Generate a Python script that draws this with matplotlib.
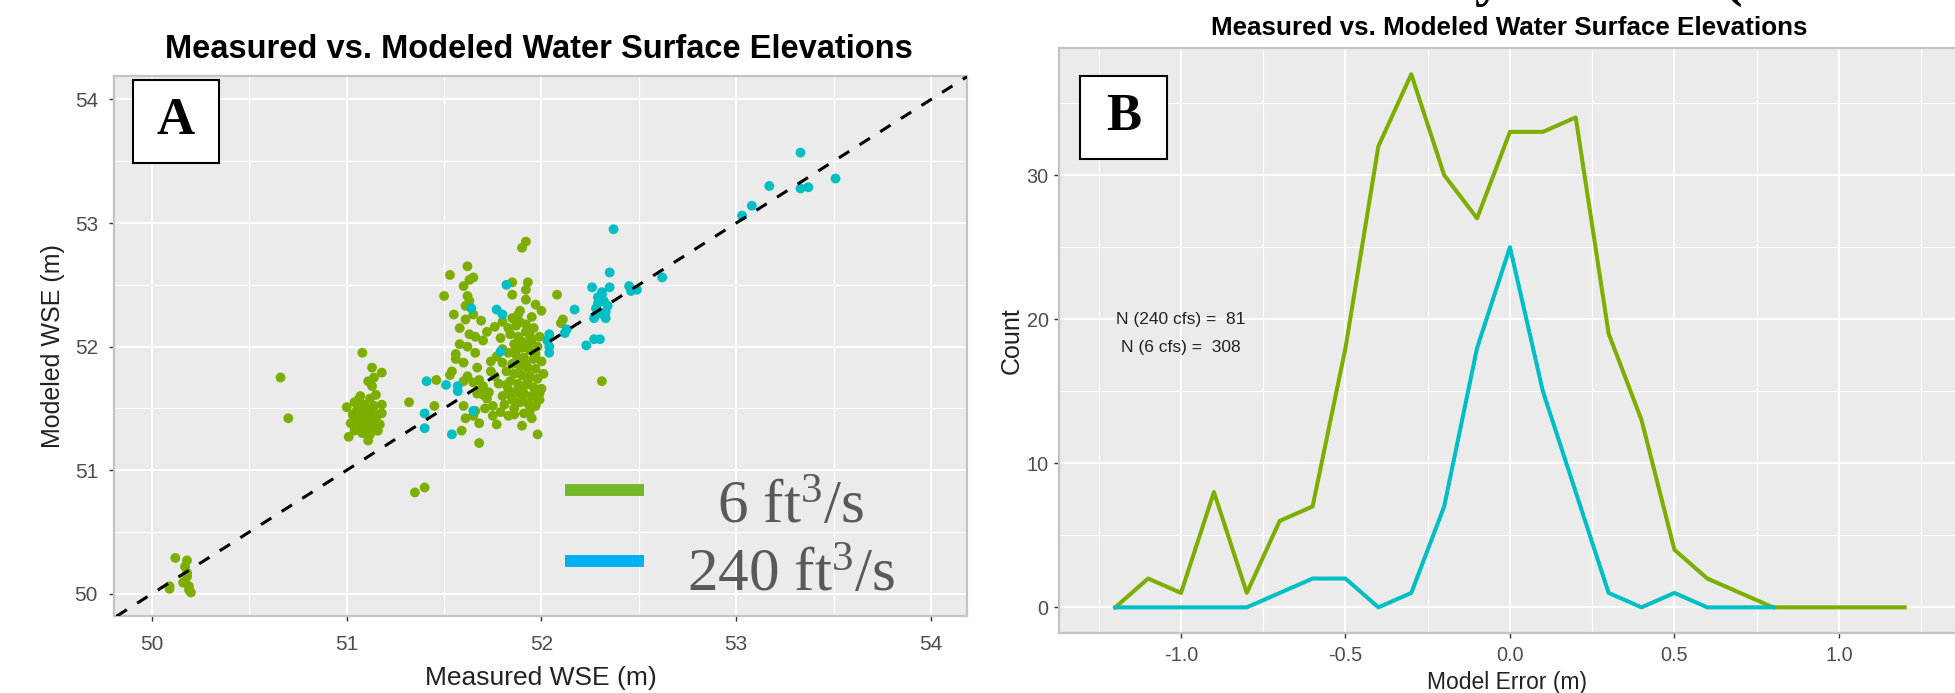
import matplotlib
matplotlib.use("Agg")
import matplotlib.pyplot as plt
from matplotlib.patches import Rectangle
from matplotlib.lines import Line2D
from matplotlib.ticker import MultipleLocator, FormatStrFormatter

# ---- panel A data: (measured, modeled) WSE in m ----
pts_6cfs = [
    (50.12, 50.29), (50.18, 50.27), (50.17, 50.22), (50.09, 50.04), (50.09, 50.06),
    (50.17, 50.10), (50.18, 50.14), (50.19, 50.06), (50.20, 50.01), (50.18, 50.17),
    (50.16, 50.09), (50.19, 50.03),
    (50.66, 51.75), (50.70, 51.42), (51.35, 50.82), (51.40, 50.86),
    (51.08, 51.95), (51.13, 51.83), (51.18, 51.79), (51.14, 51.75), (51.11, 51.72),
    (51.13, 51.68), (51.15, 51.61), (51.07, 51.60), (51.00, 51.51), (51.18, 51.53),
    (51.32, 51.55), (51.01, 51.27), (51.11, 51.24), (51.04, 51.55), (51.06, 51.50),
    (51.08, 51.46), (51.10, 51.42), (51.12, 51.48), (51.14, 51.52), (51.16, 51.45),
    (51.05, 51.40), (51.03, 51.45), (51.07, 51.36), (51.09, 51.33), (51.11, 51.38),
    (51.13, 51.35), (51.15, 51.40), (51.17, 51.37), (51.06, 51.57), (51.09, 51.53),
    (51.12, 51.58), (51.02, 51.38), (51.04, 51.32), (51.08, 51.30), (51.12, 51.29),
    (51.14, 51.44), (51.10, 51.50), (51.07, 51.43), (51.16, 51.32), (51.18, 51.46),
    (51.05, 51.48), (51.11, 51.46), (51.13, 51.41), (51.09, 51.39),
    (51.92, 52.85), (51.90, 52.80), (51.62, 52.65), (51.53, 52.58), (51.65, 52.56),
    (51.63, 52.54), (51.60, 52.49), (51.50, 52.41), (51.62, 52.41), (51.63, 52.37),
    (51.61, 52.33), (51.55, 52.26), (51.65, 52.26), (51.69, 52.21), (51.61, 52.22),
    (51.85, 52.52), (51.85, 52.42), (51.93, 52.52), (51.92, 52.46), (51.92, 52.38),
    (51.97, 52.34), (52.00, 52.29), (51.89, 52.29), (52.08, 52.42), (52.11, 52.22),
    (52.10, 52.19),
    (51.46, 51.73), (51.45, 51.52), (51.59, 51.32), (51.68, 51.22), (51.61, 51.42),
    (51.66, 51.48), (51.68, 51.38), (51.65, 51.44), (51.60, 51.52), (51.75, 51.44),
    (51.77, 51.37), (51.83, 51.44), (51.90, 51.36), (51.98, 51.29), (51.91, 51.46),
    (51.97, 51.53), (51.62, 52.00), (51.56, 51.94), (51.60, 51.87), (51.54, 51.80),
    (51.53, 51.77), (51.67, 51.83), (51.62, 51.76), (51.60, 51.72), (51.65, 51.71),
    (51.68, 51.73), (51.70, 51.68), (51.68, 51.64), (51.73, 51.63), (51.70, 51.61),
    (51.67, 51.62), (51.79, 52.07), (51.74, 51.88), (51.80, 51.87), (51.83, 52.15),
    (51.87, 52.17), (52.31, 51.72),
    (51.84, 52.10), (51.88, 52.08), (51.92, 52.12), (51.95, 52.05), (51.86, 52.02),
    (51.90, 51.99), (51.94, 51.97), (51.98, 52.00), (51.83, 51.95), (51.87, 51.93),
    (51.91, 51.91), (51.96, 51.90), (51.85, 51.86), (51.89, 51.84), (51.93, 51.83),
    (51.97, 51.82), (51.82, 51.80), (51.86, 51.78), (51.90, 51.77), (51.94, 51.76),
    (51.98, 51.74), (51.84, 51.72), (51.88, 51.70), (51.92, 51.69), (51.96, 51.67),
    (51.83, 51.65), (51.87, 51.63), (51.91, 51.62), (51.95, 51.60), (51.99, 51.62),
    (51.85, 51.57), (51.89, 51.55), (51.93, 51.54), (51.97, 51.52), (51.86, 51.50),
    (51.80, 51.60), (51.78, 51.70), (51.76, 51.76), (51.81, 51.53), (51.92, 52.18),
    (51.96, 52.15), (51.89, 52.20), (51.99, 52.08), (51.93, 52.02), (51.97, 51.94),
    (51.80, 51.98), (51.77, 51.92), (51.74, 51.80), (51.72, 51.58), (51.75, 51.52),
    (51.71, 51.50), (51.79, 51.47), (51.86, 51.45), (51.94, 51.48), (51.99, 51.57),
    (52.00, 51.66), (52.01, 51.78), (52.00, 51.88), (51.95, 51.42),
    (51.72, 52.12), (51.76, 52.16), (51.80, 52.20), (51.85, 52.23), (51.95, 52.24),
    (51.88, 52.26), (51.70, 52.05), (51.66, 52.08), (51.58, 52.15), (51.63, 52.10),
    (51.58, 52.02), (51.56, 51.90), (51.66, 51.95),
    (51.88, 51.88), (51.92, 51.86), (51.86, 51.96), (51.90, 52.04), (51.94, 52.09),
    (51.88, 51.66), (51.84, 51.61), (51.93, 51.72), (51.90, 51.58), (51.82, 51.69),
]

pts_240cfs = [
    (51.40, 51.46), (51.40, 51.34), (51.41, 51.72), (51.51, 51.69), (51.57, 51.68),
    (51.57, 51.64), (51.54, 51.29), (51.65, 51.48), (51.64, 52.31), (51.77, 52.30),
    (51.80, 52.26), (51.82, 52.50), (51.79, 51.96), (52.04, 52.10), (52.04, 51.95),
    (52.04, 52.00), (52.03, 52.05), (52.13, 52.14), (52.17, 52.30), (52.12, 52.11),
    (52.37, 52.95), (52.35, 52.60), (52.26, 52.48), (52.35, 52.48), (52.45, 52.49),
    (52.46, 52.45), (52.49, 52.46), (52.31, 52.42), (52.32, 52.37), (52.28, 52.31),
    (52.27, 52.23), (52.33, 52.23), (52.30, 52.27), (52.34, 52.33), (52.29, 52.40),
    (52.31, 52.44), (52.29, 52.35), (52.33, 52.28), (52.62, 52.56), (52.23, 52.01),
    (52.27, 52.06), (52.30, 52.06),
    (53.03, 53.06), (53.08, 53.14), (53.17, 53.30), (53.33, 53.57), (53.33, 53.28),
    (53.37, 53.29), (53.51, 53.36),
]

# ---- panel B data: model error histogram (frequency polygon) ----
err_bins = [-1.2, -1.1, -1.0, -0.9, -0.8, -0.7, -0.6, -0.5, -0.4, -0.3, -0.2, -0.1,
            0.0, 0.1, 0.2, 0.3, 0.4, 0.5, 0.6, 0.7, 0.8, 0.9, 1.0, 1.1, 1.2]
count_6cfs = [0, 2, 1, 8, 1, 6, 7, 18, 32, 37, 30, 27,
              33, 33, 34, 19, 13, 4, 2, 1, 0, 0, 0, 0, 0]
count_240cfs = [0, 0, 0, 0, 0, 1, 2, 2, 0, 1, 7, 18,
                25, 15, 8, 1, 0, 1, 0, 0, 0]

legend_labels = [r"6 ft$^{3}$/s", r"240 ft$^{3}$/s"]
n_labels = ["N (240 cfs) =  81", "N (6 cfs) =  308"]
title = "Measured vs. Modeled Water Surface Elevations"

GREEN = "#7CAE00"
CYAN = "#00BFC4"
W, H = 1955, 693

plt.rcParams["font.family"] = ["Liberation Sans", "DejaVu Sans"]
plt.rcParams["mathtext.fontset"] = "custom"
plt.rcParams["mathtext.rm"] = "Liberation Serif"
plt.rcParams["mathtext.it"] = "Liberation Serif"


def style_gg(ax, labelsize, xpad, ypad):
    ax.set_facecolor("#EBEBEB")
    ax.grid(True, which="major", color="white", lw=1.5)
    ax.grid(True, which="minor", color="white", lw=0.8)
    ax.set_axisbelow(True)
    for s in ax.spines.values():
        s.set_color("#C4C4C4")
        s.set_linewidth(1.6)
    ax.tick_params(which="major", length=3.5, width=1, color="#333333",
                   labelcolor="#4D4D4D", labelsize=labelsize)
    ax.tick_params(axis="x", pad=xpad)
    ax.tick_params(axis="y", pad=ypad)
    ax.tick_params(which="minor", length=0)


fig = plt.figure(figsize=(W / 100, H / 100), dpi=100)

# ---------------- panel A ----------------
ax1 = fig.add_axes([114 / W, 1 - 616 / H, (967 - 114) / W, (616 - 76) / H])
style_gg(ax1, 15, 10, 8)
ax1.scatter([p[0] for p in pts_6cfs], [p[1] for p in pts_6cfs],
            s=50, color=GREEN, edgecolors="none", zorder=3)
ax1.scatter([p[0] for p in pts_240cfs], [p[1] for p in pts_240cfs],
            s=50, color=CYAN, edgecolors="none", zorder=3)
ax1.plot([49.5, 54.5], [49.5, 54.5], color="black", lw=2.2,
         linestyle=(0, (4, 4)), zorder=4)
ax1.set_xlim(49.805, 54.185)
ax1.set_ylim(49.82, 54.19)
ax1.xaxis.set_major_locator(MultipleLocator(1))
ax1.yaxis.set_major_locator(MultipleLocator(1))
ax1.xaxis.set_minor_locator(MultipleLocator(0.5))
ax1.yaxis.set_minor_locator(MultipleLocator(0.5))
ax1.set_xlabel("Measured WSE (m)", fontsize=19, color="#222222", va="center")
ax1.set_ylabel("Modeled WSE (m)", fontsize=18, color="#222222", va="center")
ax1.xaxis.set_label_coords(0.5, -0.115)
ax1.yaxis.set_label_coords(-0.072, 0.5)
fig.text(539 / W, 1 - 50 / H, title, fontsize=23.5, fontweight="bold",
         ha="center", va="center")

# legend drawn as in the figure (thick bars + large serif labels)
for lab, col, yc, yb in [(legend_labels[0], "#74B72A", 490, 523),
                         (legend_labels[1], "#00B0F0", 561, 591)]:
    fig.add_artist(Line2D([565 / W, 644 / W], [1 - yc / H, 1 - yc / H],
                          color=col, lw=8.6, solid_capstyle="butt"))
    fig.text(791 / W, 1 - yb / H, lab, fontsize=44, color="#595959",
             family="Liberation Serif", ha="center", va="baseline")

# ---------------- panel B ----------------
ax2 = fig.add_axes([1059 / W, 1 - 633 / H, (W - 1059) / W, (633 - 48) / H])
style_gg(ax2, 14.3, 6, 4)
ax2.spines["right"].set_visible(False)
ax2.plot(err_bins, count_6cfs, color=GREEN, lw=2.9, zorder=3)
ax2.plot(err_bins[:len(count_240cfs)], count_240cfs, color=CYAN, lw=2.9, zorder=4)
ax2.set_xlim(-1.371, 1.353)
ax2.set_ylim(-1.78, 38.82)
ax2.xaxis.set_major_locator(MultipleLocator(0.5))
ax2.xaxis.set_minor_locator(MultipleLocator(0.25))
ax2.yaxis.set_major_locator(MultipleLocator(10))
ax2.yaxis.set_minor_locator(MultipleLocator(5))
ax2.xaxis.set_major_formatter(FormatStrFormatter("%.1f"))
ax2.set_xlabel("Model Error (m)", fontsize=16.5, color="#222222", va="center")
ax2.set_ylabel("Count", fontsize=18, color="#222222", va="center")
ax2.xaxis.set_label_coords(0.5, -0.084)
ax2.yaxis.set_label_coords(-0.0525, 0.5)
ax2.text(-1.0, 20, n_labels[0], fontsize=12.5, ha="center", va="center", color="#222222")
ax2.text(-1.0, 18, n_labels[1], fontsize=12.5, ha="center", va="center", color="#222222")
fig.text(1509.5 / W, 1 - 28 / H, title, fontsize=18.7, fontweight="bold",
         ha="center", va="center")

# panel letters in boxes
for lab, (x0, x1, y0, y1) in [("A", (133, 219, 80, 163)), ("B", (1080, 1167, 76, 159))]:
    fig.add_artist(Rectangle((x0 / W, 1 - y1 / H), (x1 - x0) / W, (y1 - y0) / H,
                             transform=fig.transFigure, facecolor="white",
                             edgecolor="black", lw=1.5))
    fig.text((x0 + x1) / 2 / W, 1 - (y0 + y1) / 2 / H, lab, fontsize=38,
             fontweight="bold", family="Liberation Serif", ha="center", va="center")

# cut-off heading fragments at the very top edge (as in the source page)
fig.text(1488 / W, 1 + 5 / H, "y", fontsize=40, fontweight="bold",
         family="Liberation Serif", ha="center", va="baseline")
fig.text(1733 / W, 1 + 5 / H, "(", fontsize=40, fontweight="bold",
         family="Liberation Serif", ha="center", va="baseline")

fig.savefig("out.png", dpi=100)
